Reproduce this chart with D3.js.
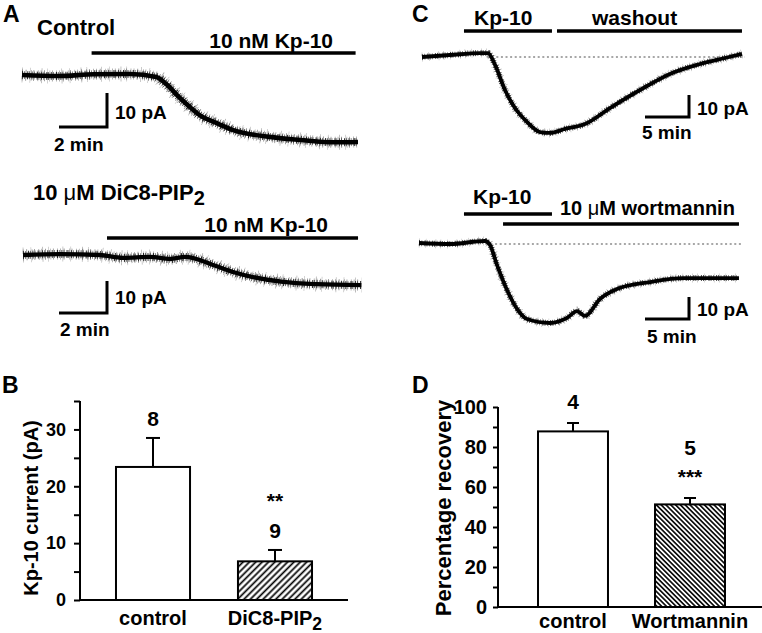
<!DOCTYPE html>
<html><head><meta charset="utf-8">
<script src="https://cdn.jsdelivr.net/npm/d3@7"></script>
<style>
body{margin:0;background:#fff}
svg{display:block}
text{font-family:"Liberation Sans",Arial,sans-serif;font-weight:bold;fill:#000}
</style>
</head><body>
<svg id="fig" width="762" height="633"></svg>
<script>
// ================= DATA =================
// Panel A (top): control trace — time (min), current (pA)
const traceA1Time    = [0, 1.5, 3.0, 4.5, 5.6, 6.0, 6.5, 6.9, 7.4, 8.1, 8.8, 10.3, 11.6, 13.0, 14.0];
const traceA1Current = [0, -0.3, 0.2, 0.3, -0.6, -2.6, -6.2, -8.8, -11.8, -14.1, -16.2, -18.2, -19.1, -19.8, -19.7];
const applA1 = [2.9, 13.9];            // 10 nM Kp-10 (min)

// Panel A (bottom): 10 µM DiC8-PIP2 trace
const traceA2Time    = [0, 1.54, 3.21, 4.17, 5.29, 6.13, 6.75, 7.92, 8.75, 9.58, 10.83, 12.25, 14.1];
const traceA2Current = [0, 0.3, 0, -0.9, -0.6, -1.25, -0.6, -3.1, -5.3, -6.9, -8.4, -9.1, -9.4];
const applA2 = [3.5, 13.96];

// Panel C (top): Kp-10 then washout
const traceC1Time    = [0, 3.18, 6.59, 7.5, 8.3, 9.43, 10.57, 11.93, 13.41, 14.55, 16.25, 18.52, 21.36, 24.77, 28.18, 31.59, 34.43, 36.36];
const traceC1Current = [0, 0.9, 1.8, 1.8, -3.6, -15.0, -23.2, -29.5, -34.1, -34.5, -32.7, -30.5, -23.2, -15.0, -7.7, -3.2, -0.45, 1.4];
const applC1Kp = [4.77, 14.77];
const applC1Wash = [15.34, 36.36];

// Panel C (bottom): Kp-10 then 10 µM wortmannin
const traceC2Time    = [0, 3.52, 7.5, 8.07, 8.86, 10.0, 11.14, 12.27, 14.89, 16.82, 17.95, 18.86, 20.57, 22.5, 26.25, 30.0, 36.36];
const traceC2Current = [0.45, 0, 1.36, -0.45, -9.5, -20.9, -29.5, -34.1, -35.9, -33.6, -30.5, -32.7, -25.0, -20.5, -17.3, -15.5, -15.5];
const applC2Kp = [5.11, 15.11];
const applC2Wort = [9.55, 36.36];

// Panel B: Kp-10 current (pA)
const barBCategories = ["control", "DiC8-PIP2"];
const barBMeans = [23.4, 6.8];
const barBErrors = [5.1, 2.0];
const barBN = ["8", "9"];
const barBSig = ["", "**"];
const barBTicks = [0, 10, 20, 30];
const barBMinorTicks = [5, 15, 25, 35];

// Panel D: Percentage recovery
const barDCategories = ["control", "Wortmannin"];
const barDMeans = [87.8, 51.3];
const barDErrors = [4.2, 3.2];
const barDN = ["4", "5"];
const barDSig = ["", "***"];
const barDTicks = [0, 20, 40, 60, 80, 100];
const barDMinorTicks = [10, 30, 50, 70, 90];

// ================= DRAWING =================
const svg = d3.select("#fig");
const defs = svg.append("defs");

function hatch(id, angle, spacing, sw) {
  const p = defs.append("pattern").attr("id", id).attr("patternUnits", "userSpaceOnUse")
    .attr("width", spacing).attr("height", spacing)
    .attr("patternTransform", `rotate(${angle})`);
  p.append("rect").attr("width", spacing).attr("height", spacing).attr("fill", "#fff");
  p.append("line").attr("x1", spacing / 2).attr("x2", spacing / 2).attr("y1", -1).attr("y2", spacing + 1)
    .attr("stroke", "#000").attr("stroke-width", sw);
}
hatch("hatchB", 45, 4.5, 1.7);
hatch("hatchD", -45, 3.4, 1.6);

function label(txt, x, y, size, anchor, weight) {
  return svg.append("text").attr("x", x).attr("y", y).attr("font-size", size)
    .attr("text-anchor", anchor || "start").attr("font-weight", weight || "bold").text(txt);
}
function labelSub(main, sub, x, y, size, anchor) {
  const t = svg.append("text").attr("x", x).attr("y", y).attr("font-size", size)
    .attr("text-anchor", anchor || "start");
  t.append("tspan").text(main);
  t.append("tspan").attr("dy", 5).attr("font-size", size * 0.88).text(sub);
  return t;
}

// ---------- Trace panels ----------
function tracePanel(cfg) {
  const x = d3.scaleLinear().domain([0, 1]).range([cfg.x0, cfg.x0 + cfg.pxMin]);
  const y = d3.scaleLinear().domain([0, 1]).range([cfg.y0, cfg.y0 - cfg.pxPA]);
  const g = svg.append("g");
  if (cfg.dotted) {
    g.append("line").attr("x1", x(cfg.dotted[0])).attr("x2", x(cfg.dotted[1]))
      .attr("y1", y(0)).attr("y2", y(0)).attr("stroke", "#8a8a8a")
      .attr("stroke-width", 1.6).attr("stroke-dasharray", "2,2.6");
  }
  const line = d3.line().x((d, i) => x(cfg.t[i])).y(d => y(d)).curve(d3.curveMonotoneX);
  const d = line(cfg.v);
  // recording-noise texture (stroke styling only)
  cfg.noise.forEach(n => {
    g.append("path").attr("d", d).attr("fill", "none").attr("stroke", "#000")
      .attr("stroke-opacity", n.op).attr("stroke-width", n.w).attr("stroke-dasharray", n.dash);
  });
  g.append("path").attr("d", d).attr("fill", "none").attr("stroke", "#000")
    .attr("stroke-width", cfg.core).attr("stroke-linejoin", "round");
  cfg.bars.forEach(b => {
    g.append("line").attr("x1", x(b.span[0])).attr("x2", x(b.span[1]))
      .attr("y1", b.y).attr("y2", b.y).attr("stroke", "#000").attr("stroke-width", 3.6);
  });
  const [cx, cy] = cfg.corner;
  const hLen = x(cfg.sbMin) - x(0), vLen = y(0) - y(cfg.sbPA);
  g.append("path").attr("d", `M${cx - hLen},${cy}H${cx}V${cy - vLen}`)
    .attr("fill", "none").attr("stroke", "#000").attr("stroke-width", 3);
}

const noiseA = [
  { w: 15, op: 0.35, dash: "0.6,7.3,0.5,11.1,0.7,5.2,0.5,13.7" },
  { w: 11, op: 0.5, dash: "0.6,2.9,0.8,4.7,0.5,1.9,0.7,3.6,0.6,2.3" },
  { w: 8, op: 0.8, dash: "0.9,1.4,0.6,2.2,1.1,0.9,0.7,1.8" }];
const noiseC = [
  { w: 9, op: 0.3, dash: "0.6,6.1,0.5,9.3,0.6,4.4" },
  { w: 6, op: 0.75, dash: "0.9,1.6,0.6,2.4,1,1.1" }];

tracePanel({ x0: 22, y0: 75, pxMin: 24, pxPA: 3.4, t: traceA1Time, v: traceA1Current,
  noise: noiseA, core: 4.6, bars: [{ span: applA1, y: 53 }], corner: [107, 127], sbMin: 2, sbPA: 10 });
tracePanel({ x0: 23, y0: 255, pxMin: 24, pxPA: 3.2, t: traceA2Time, v: traceA2Current,
  noise: noiseA, core: 4.3, bars: [{ span: applA2, y: 238 }], corner: [107, 313], sbMin: 2, sbPA: 10 });
tracePanel({ x0: 422, y0: 57, pxMin: 8.8, pxPA: 2.2, t: traceC1Time, v: traceC1Current,
  noise: noiseC, core: 3.8, bars: [{ span: applC1Kp, y: 31 }, { span: applC1Wash, y: 31 }],
  corner: [689, 117], sbMin: 5, sbPA: 10, dotted: [7.4, 36.7] });
tracePanel({ x0: 419, y0: 244, pxMin: 8.8, pxPA: 2.2, t: traceC2Time, v: traceC2Current,
  noise: noiseC, core: 3.8, bars: [{ span: applC2Kp, y: 214 }, { span: applC2Wort, y: 224 }],
  corner: [689, 319], sbMin: 5, sbPA: 10, dotted: [7.6, 36.7] });

// trace panel texts
label("A", 3, 22, 23);
label("Control", 37, 35, 22);
label("10 nM Kp-10", 333, 48, 21, "end");
label("10 pA", 115, 119, 19);
label("2 min", 54, 151, 19);
const dic = svg.append("text").attr("x", 33).attr("y", 200).attr("font-size", 22);
dic.append("tspan").text("10 ");
dic.append("tspan").attr("font-weight", "normal").text("μ");
dic.append("tspan").text("M DiC8-PIP");
dic.append("tspan").attr("dy", 5).attr("font-size", 20).text("2");
label("10 nM Kp-10", 328, 232, 21, "end");
label("10 pA", 115, 304, 19);
label("2 min", 60, 336, 19);

label("C", 412, 22, 23);
label("Kp-10", 474, 25, 21);
label("washout", 592, 25, 21);
label("10 pA", 697, 115, 19);
label("5 min", 642, 139, 19);
label("Kp-10", 473, 204, 21);
const wt = svg.append("text").attr("x", 560).attr("y", 215).attr("font-size", 20);
wt.append("tspan").text("10 ");
wt.append("tspan").attr("font-weight", "normal").text("μ");
wt.append("tspan").text("M wortmannin");
label("10 pA", 697, 316, 19);
label("5 min", 647, 343, 19);

// ---------- Bar charts ----------
function barChart(cfg) {
  const x = d3.scaleBand().domain(cfg.cats).range(cfg.xRange)
    .paddingInner(cfg.pi).paddingOuter(cfg.po);
  const y = d3.scaleLinear().domain(cfg.yDomain).range(cfg.yRange);
  const g = svg.append("g");
  cfg.cats.forEach((c, i) => {
    g.append("rect").attr("x", x(c)).attr("y", y(cfg.means[i]))
      .attr("width", x.bandwidth()).attr("height", y(0) - y(cfg.means[i]))
      .attr("fill", i === 0 ? "#fff" : `url(#${cfg.hatch})`)
      .attr("stroke", "#000").attr("stroke-width", 2);
    const cx = x(c) + x.bandwidth() / 2;
    const top = y(cfg.means[i] + cfg.errs[i]);
    g.append("line").attr("x1", cx).attr("x2", cx).attr("y1", y(cfg.means[i])).attr("y2", top)
      .attr("stroke", "#000").attr("stroke-width", 2);
    g.append("line").attr("x1", cx - cfg.cap / 2).attr("x2", cx + cfg.cap / 2)
      .attr("y1", top).attr("y2", top).attr("stroke", "#000").attr("stroke-width", 2);
    let off = cfg.firstOff;
    cfg.order.forEach(kind => {
      const txt = kind === "n" ? cfg.n[i] : cfg.sig[i];
      if (!txt) return;
      g.append("text").attr("x", cx).attr("y", top - off).attr("text-anchor", "middle")
        .attr("font-size", 21).text(txt);
      off += cfg.stepOff;
    });
    if (c.endsWith("PIP2")) labelSub(c.slice(0, -1), "2", cx, cfg.catY, cfg.catSize, "middle");
    else label(c, cx, cfg.catY, cfg.catSize, "middle");
  });
  const ax = g.append("g").attr("transform", `translate(${cfg.xRange[0]},0)`)
    .call(d3.axisLeft(y).tickValues(cfg.ticks).tickSize(cfg.tickSize).tickSizeOuter(0)
      .tickPadding(cfg.tickPad).tickFormat(d3.format("d")));
  ax.selectAll("text").attr("font-size", cfg.tickFont).attr("font-family", null).attr("fill", "#000");
  ax.selectAll("line").attr("stroke-width", 2);
  ax.select(".domain").attr("stroke-width", 2).attr("d", `M0,${y(0)}V${y(cfg.yDomain[1])}`);
  const mx = g.append("g").attr("transform", `translate(${cfg.xRange[0]},0)`)
    .call(d3.axisLeft(y).tickValues(cfg.minor).tickSize(cfg.tickSize).tickFormat(""));
  mx.select(".domain").remove();
  mx.selectAll("line").attr("stroke-width", 2);
  g.selectAll(".tick text").attr("font-size", cfg.tickFont);
  g.append("line").attr("x1", cfg.xRange[0] - 1).attr("x2", cfg.xRange[1])
    .attr("y1", y(0)).attr("y2", y(0)).attr("stroke", "#000").attr("stroke-width", 2);
  g.append("text").attr("transform", `translate(${cfg.titleX},${cfg.titleY}) rotate(-90)`)
    .attr("text-anchor", "middle").attr("font-size", cfg.titleSize)
    .attr("font-weight", cfg.titleWeight).text(cfg.title);
}

barChart({ cats: barBCategories, means: barBMeans, errs: barBErrors, n: barBN, sig: barBSig,
  ticks: barBTicks, minor: barBMinorTicks, xRange: [80, 348], pi: 0.393, po: 0.295,
  yDomain: [0, 35], yRange: [600, 401], hatch: "hatchB", cap: 14,
  order: ["n", "sig"], firstOff: 12, stepOff: 30,
  catY: 625, catSize: 20, tickSize: 6, tickPad: 8, tickFont: 18,
  title: "Kp-10 current (pA)", titleX: 38, titleY: 508, titleSize: 20, titleWeight: "bold" });

barChart({ cats: barDCategories, means: barDMeans, errs: barDErrors, n: barDN, sig: barDSig,
  ticks: barDTicks, minor: barDMinorTicks, xRange: [498, 765], pi: 0.402, po: 0.342,
  yDomain: [0, 100], yRange: [607, 407], hatch: "hatchD", cap: 12,
  order: ["sig", "n"], firstOff: 14, stepOff: 29,
  catY: 628, catSize: 20, tickSize: 5, tickPad: 6, tickFont: 20,
  title: "Percentage recovery", titleX: 451, titleY: 508, titleSize: 22, titleWeight: "normal" });

label("B", 2, 393, 23);
label("D", 412, 393, 23);
</script>
</body></html>
